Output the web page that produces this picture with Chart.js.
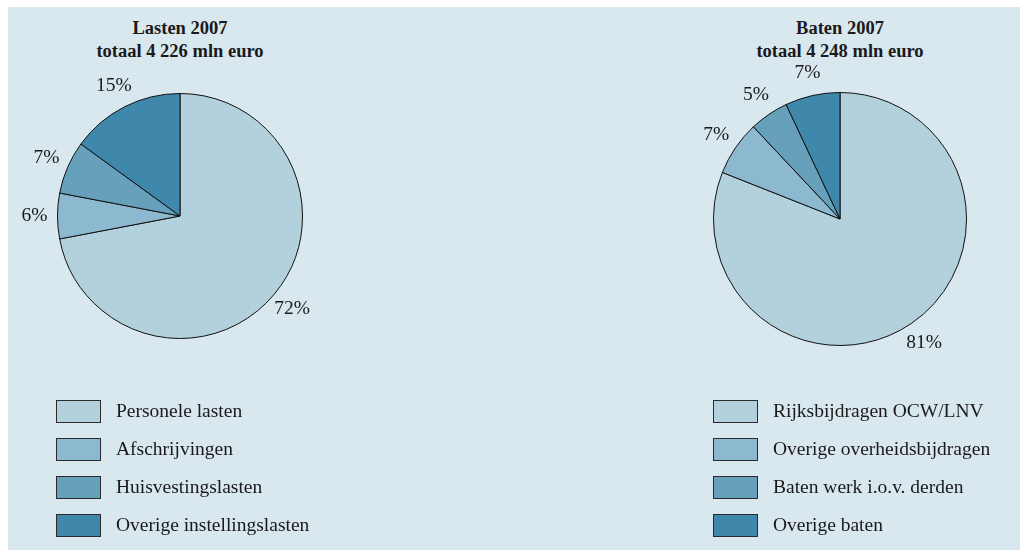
<!DOCTYPE html>
<html lang="nl">
<head>
  <meta charset="UTF-8">
  <title>Lasten en baten 2007</title>
  <script src="https://cdn.jsdelivr.net/npm/chart.js"></script>
  <style>
    body {
      margin: 0;
      width: 1020px;
      height: 550px;
      background: #fff;
      font-family: "Liberation Serif", "DejaVu Serif", serif;
      color: #1a1a1a;
      overflow: hidden;
    }

    /* light blue panel */
    .panel {
      position: absolute;
      left: 8px;
      top: 7px;
      width: 1012px;
      height: 543px;
      background: #d9e7ef;
    }

    .title {
      position: absolute;
      width: 300px;
      text-align: center;
      font-weight: bold;
      font-size: 18.5px;
      line-height: 23px;
    }

    .chart-box {
      position: absolute;
      width: 360px;
      height: 360px;
    }

    .legend {
      position: absolute;
      list-style: none;
      margin: 0;
      padding: 0;
      font-size: 19.5px;
    }

    .legend li {
      height: 38px;
      display: flex;
      align-items: center;
    }

    .legend .swatch {
      width: 43px;
      height: 21px;
      border: 1.5px solid #2a2a2a;
      margin-right: 15px;
    }
  </style>
</head>
<body>
  <div class="panel"></div>

  <div class="title" style="left:30px; top:17px;">Lasten 2007<br>totaal 4 226 mln euro</div>
  <div class="title" style="left:690px; top:17px;">Baten 2007<br>totaal 4 248 mln euro</div>

  <div class="chart-box" style="left:0px; top:36px;"><canvas id="lasten"></canvas></div>
  <div class="chart-box" style="left:660px; top:39px;"><canvas id="baten"></canvas></div>

  <ul class="legend" id="lasten-legend" style="left:56px; top:392px;"></ul>
  <ul class="legend" id="baten-legend" style="left:713px; top:392px;"></ul>

  <script>
    // data (percentages)
    const lastenLabels = ['Personele lasten', 'Afschrijvingen', 'Huisvestingslasten', 'Overige instellingslasten'];
    const lastenValues = [72, 6, 7, 15];

    const batenLabels = ['Rijksbijdragen OCW/LNV', 'Overige overheidsbijdragen', 'Baten werk i.o.v. derden', 'Overige baten'];
    const batenValues = [81, 7, 5, 7];

    const sliceColors = ['#b3d1dc', '#8cb9cf', '#66a0bb', '#3f88ab'];

    // draws the "72%" style labels just outside each slice
    const outsideLabels = {
      id: 'outsideLabels',
      afterDatasetsDraw(chart) {
        const ctx = chart.ctx;
        const data = chart.data.datasets[0].data;
        ctx.save();
        ctx.font = '19.5px "Liberation Serif", serif';
        ctx.fillStyle = '#1a1a1a';
        ctx.textAlign = 'center';
        ctx.textBaseline = 'middle';
        chart.getDatasetMeta(0).data.forEach(function (arc, i) {
          const p = arc.getProps(['x', 'y', 'startAngle', 'endAngle', 'outerRadius'], true);
          const mid = (p.startAngle + p.endAngle) / 2;
          const r = p.outerRadius + 23;
          ctx.fillText(data[i] + '%', p.x + Math.cos(mid) * r, p.y + Math.sin(mid) * r);
        });
        ctx.restore();
      }
    };

    function makePie(id, labels, values, pad) {
      new Chart(document.getElementById(id), {
        type: 'pie',
        data: {
          labels: labels,
          datasets: [{
            data: values,
            backgroundColor: sliceColors,
            borderColor: '#111',
            borderWidth: 1
          }]
        },
        options: {
          responsive: true,
          maintainAspectRatio: false,
          animation: false,
          layout: { padding: pad },
          plugins: {
            legend: { display: false },
            tooltip: { enabled: false }
          }
        },
        plugins: [outsideLabels]
      });
    }

    function makeLegend(id, labels) {
      const ul = document.getElementById(id);
      labels.forEach(function (label, i) {
        const li = document.createElement('li');
        const sw = document.createElement('span');
        sw.className = 'swatch';
        sw.style.background = sliceColors[i];
        li.appendChild(sw);
        li.appendChild(document.createTextNode(label));
        ul.appendChild(li);
      });
    }

    makePie('lasten', lastenLabels, lastenValues, 57);
    makePie('baten', batenLabels, batenValues, 53);
    makeLegend('lasten-legend', lastenLabels);
    makeLegend('baten-legend', batenLabels);
  </script>
</body>
</html>
